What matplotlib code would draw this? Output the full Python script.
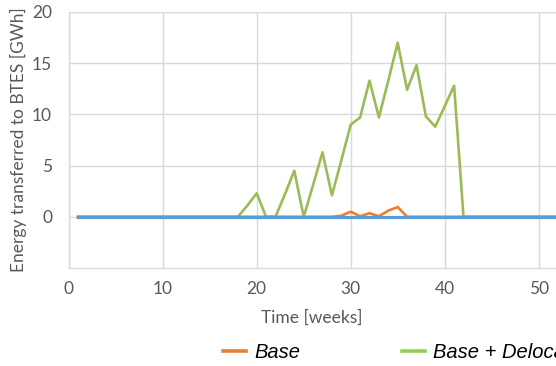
import matplotlib
matplotlib.use("Agg")
import matplotlib.pyplot as plt
import numpy as np

weeks = list(range(1, 53))
base_vals = {29: 0.1, 30: 0.5, 31: 0.05, 32: 0.35, 33: 0.05, 34: 0.6, 35: 0.95}
deloc_vals = {19: 1.1, 20: 2.3, 23: 2.2, 24: 4.5, 26: 3.1, 27: 6.3, 28: 2.1,
              29: 5.5, 30: 9.0, 31: 9.7, 32: 13.3, 33: 9.7, 34: 13.3, 35: 17.0,
              36: 12.4, 37: 14.8, 38: 9.8, 39: 8.8, 40: 10.8, 41: 12.8}
base = [base_vals.get(w, 0.0) for w in weeks]
base_deloc = [deloc_vals.get(w, 0.0) for w in weeks]
third = [0.0 for w in weeks]

x_ticks = [0, 10, 20, 30, 40, 50]
y_ticks = [0, 5, 10, 15, 20]

W, H = 556, 366
fig = plt.figure(figsize=(W / 100, H / 100), dpi=100)
px_per_week = 9.4
x0 = 68.7
xmax = 60
ax = fig.add_axes([x0 / W, 1 - 268 / H, xmax * px_per_week / W, (268 - 12) / H])

gray = "#595959"
grid = "#D9D9D9"

ax.plot(weeks, base_deloc, color="#9BBB59", lw=1.9, label="Base + Delocalized", zorder=3)
ax.plot(weeks, base, color="#ED7D31", lw=1.9, label="Base", zorder=3)
ax.plot(weeks, third, color="#5B9BD5", lw=2.3, zorder=4)

ax.set_xlim(0, xmax)
ax.set_ylim(-5, 20)
ax.set_xticks(x_ticks)
ax.set_yticks(y_ticks)
ax.grid(True, color=grid, lw=1)
ax.set_axisbelow(True)
for s in ["top", "right"]:
    ax.spines[s].set_visible(False)
for s in ["left", "bottom"]:
    ax.spines[s].set_color(grid)
    ax.spines[s].set_linewidth(1)
ax.axhline(20, color=grid, lw=1, zorder=0)

font = "Lato"
fs = 12.5
ax.tick_params(axis="both", length=0, labelcolor=gray, labelsize=fs)
ax.tick_params(axis="y", pad=12)
ax.tick_params(axis="x", pad=9)
for lab in ax.get_xticklabels() + ax.get_yticklabels():
    lab.set_family(font)

ax.set_xlabel("Time [weeks]", fontsize=fs, color=gray, family=font)
ax.xaxis.set_label_coords((312 - x0) / (xmax * px_per_week), -(318 - 268) / (268 - 12))
ax.xaxis.label.set_va("center")
ax.set_ylabel("Energy transferred to BTES [GWh]", fontsize=fs, color=gray, family=font)
ax.yaxis.set_label_coords(-(x0 - 18) / (xmax * px_per_week), 0.5)
ax.yaxis.label.set_va("center")

from matplotlib.lines import Line2D
h1 = Line2D([], [], color="#ED7D31", lw=2.6)
h2 = Line2D([], [], color="#92D050", lw=2.6)
leg = fig.legend([h1, h2], ["Base", "Base + Delocalized"], ncol=2, frameon=False,
                 loc="center left", bbox_to_anchor=(223 / W, 1 - 353 / H),
                 borderpad=0, borderaxespad=0, handlelength=1.15, handletextpad=0.4,
                 columnspacing=5.05, prop={"family": "Liberation Sans", "style": "italic", "size": 14.5})

fig.savefig("out.png", dpi=100)
